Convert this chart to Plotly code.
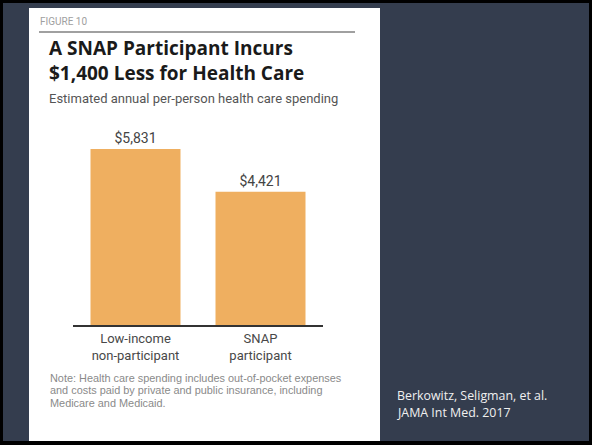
import plotly.graph_objects as go

categories = ["Low-income<br>non-participant", "SNAP<br>participant"]
values = [5831, 4421]
value_labels = ["$5,831", "$4,421"]
title_lines = ["A SNAP Participant Incurs", "$1,400 Less for Health Care"]
note_lines = ["Note: Health care spending includes out-of-pocket expenses",
              "and costs paid by private and public insurance, including",
              "Medicare and Medicaid."]
source_lines = ["Berkowitz, Seligman, et al.", "JAMA Int Med. 2017"]

W, H = 592, 445
L, R, T, B = 73, 323, 144, 325
PW, PH = R - L, B - T
YMAX = 6000

def px(x):
    return (x - L) / PW

def py(y):
    return (B - y) / PH

fig = go.Figure(go.Bar(
    x=[0, 1], y=values, marker_color="#EFAF60", marker_line_width=0,
    text=value_labels, textposition="outside", cliponaxis=False,
    textfont=dict(family="Roboto", size=14, color="#444444"),
    hoverinfo="skip", width=0.72,
))

shapes = [
    dict(type="rect", xref="paper", yref="paper", x0=px(3), x1=px(589), y0=py(3), y1=py(441),
         fillcolor="#343D4E", line_width=0, layer="below"),
    dict(type="rect", xref="paper", yref="paper", x0=px(29), x1=px(380), y0=py(8), y1=py(441),
         fillcolor="#FFFFFF", line_width=0, layer="below"),
    dict(type="line", xref="paper", yref="paper", x0=px(39), x1=px(355), y0=py(32), y1=py(32),
         line=dict(color="#808080", width=1.5)),
]

def ann(text, x, y, size, color, family):
    return dict(text=text, x=px(x), y=py(y), xref="paper", yref="paper", showarrow=False,
                xanchor="left", yanchor="middle", align="left", borderpad=0,
                font=dict(size=size, color=color, family=family))

annotations = [
    ann("FIGURE 10", 39, 22, 10, "#A0A0A0", "Roboto"),
    ann("<b>" + "<br>".join(title_lines) + "</b>", 48, 61, 19, "#1A1A1A", "Open Sans"),
    ann("Estimated annual per-person health care spending", 48, 98, 13, "#555555", "Roboto"),
]
for i, t in enumerate(note_lines):
    annotations.append(ann(t, 49, 378 + 12.4 * i, 10.9, "#8A8A8A", "Liberation Sans"))
for i, t in enumerate(source_lines):
    annotations.append(ann(t, 396, 395 + 17 * i, 12.4, "#F0F0F0", "Open Sans"))

fig.update_layout(
    width=W, height=H,
    margin=dict(l=L, r=W - R, t=T, b=H - B, pad=0),
    paper_bgcolor="#000000", plot_bgcolor="rgba(0,0,0,0)",
    showlegend=False,
    shapes=shapes, annotations=annotations,
    xaxis=dict(range=[-0.5, 1.5], tickvals=[0, 1], ticktext=categories,
               showline=True, linecolor="#333333", linewidth=2, showgrid=False,
               zeroline=False, ticks="", fixedrange=True,
               tickfont=dict(family="Roboto", size=13, color="#484848")),
    yaxis=dict(range=[0, YMAX], visible=False, fixedrange=True),
)

fig.write_html("out.html", config={"displayModeBar": False})
